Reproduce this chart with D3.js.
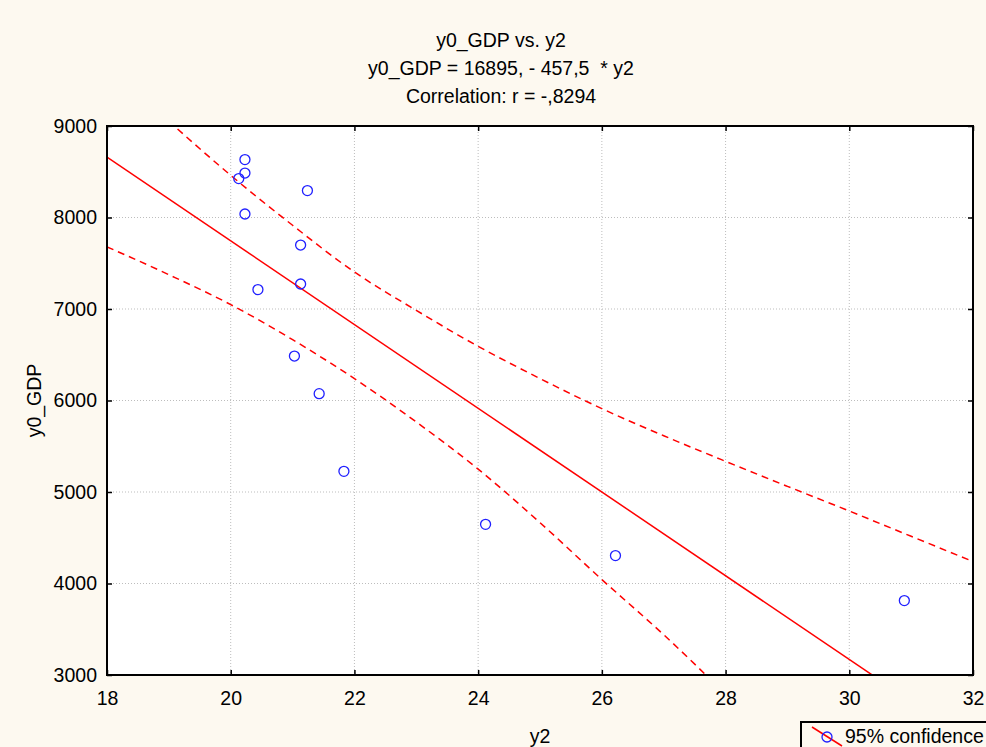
<!DOCTYPE html>
<html>
<head>
<meta charset="utf-8">
<script src="https://cdn.jsdelivr.net/npm/d3@7"></script>
<style>
  body { margin: 0; background: #fdf9f0; }
  text { font-family: "Liberation Sans", Arial, sans-serif; fill: #000; }
</style>
</head>
<body>
<div id="chart"></div>
<script>
// data
let y2Vals  = [20.23, 20.23, 20.13, 21.24, 20.23, 21.13, 21.13, 20.44, 21.03, 21.43, 21.83, 24.12, 26.22, 30.89];
let gdpVals = [8633, 8486, 8425, 8294, 8038, 7699, 7273, 7212, 6486, 6075, 5226, 4647, 4305, 3813];

// regression y0_GDP = 16895 - 457.5 * y2
let intercept = 16895, slope = -457.5;
let regX = [18, 32];

// 95% confidence band
let upperX = [18, 19, 20, 21, 22, 23, 24, 25, 26, 27, 28, 29, 30, 31, 32];
let upperY = [9680, 9053, 8461, 7915, 7404, 6985, 6592, 6240, 5911, 5615, 5335, 5062, 4792, 4516, 4240];
let lowerX = [18, 19, 20, 21, 22, 23, 24, 25, 26, 27, 28];
let lowerY = [7679, 7375, 7048, 6665, 6239, 5765, 5250, 4665, 4043, 3440, 2790];

let xTicks = [18, 20, 22, 24, 26, 28, 30, 32];
let yTicks = [3000, 4000, 5000, 6000, 7000, 8000, 9000];

let titleLines = ["y0_GDP vs. y2", "y0_GDP = 16895, - 457,5  * y2", "Correlation: r = -,8294"];

let W = 986, H = 747;
let pLeft = 107, pRight = 973, pTop = 126, pBottom = 675;

let svg = d3.select("#chart").append("svg")
            .attr("width", W)
            .attr("height", H);

svg.append("rect").attr("width", W).attr("height", H).attr("fill", "#fdf9f0");

let x = d3.scaleLinear().domain([18, 32]).range([pLeft, pRight]);
let y = d3.scaleLinear().domain([3000, 9000]).range([pBottom, pTop]);

// plot area
svg.append("rect")
   .attr("x", pLeft).attr("y", pTop)
   .attr("width", pRight - pLeft).attr("height", pBottom - pTop)
   .attr("fill", "#fff");

svg.append("clipPath").attr("id", "clip")
   .append("rect")
   .attr("x", pLeft).attr("y", pTop)
   .attr("width", pRight - pLeft).attr("height", pBottom - pTop);

// grid
let grid = svg.append("g");
grid.selectAll(".gx").data(xTicks.slice(1, -1)).enter().append("line")
    .attr("x1", d => x(d)).attr("x2", d => x(d))
    .attr("y1", pTop).attr("y2", pBottom)
    .attr("stroke", "#bdbdbd").attr("stroke-dasharray", "1,2");
grid.selectAll(".gy").data(yTicks.slice(1, -1)).enter().append("line")
    .attr("x1", pLeft).attr("x2", pRight)
    .attr("y1", d => y(d)).attr("y2", d => y(d))
    .attr("stroke", "#bdbdbd").attr("stroke-dasharray", "1,2");

let plot = svg.append("g").attr("clip-path", "url(#clip)");

let line = d3.line().x(d => x(d[0])).y(d => y(d[1]));
let curve = d3.line().x(d => x(d[0])).y(d => y(d[1])).curve(d3.curveMonotoneX);

plot.append("path")
    .datum(regX.map(v => [v, intercept + slope * v]))
    .attr("d", line)
    .attr("fill", "none").attr("stroke", "#ff0000").attr("stroke-width", 1.5);

plot.append("path")
    .datum(upperX.map((v, i) => [v, upperY[i]]))
    .attr("d", curve)
    .attr("fill", "none").attr("stroke", "#ff0000").attr("stroke-width", 1.5)
    .attr("stroke-dasharray", "7,5");

plot.append("path")
    .datum(lowerX.map((v, i) => [v, lowerY[i]]))
    .attr("d", curve)
    .attr("fill", "none").attr("stroke", "#ff0000").attr("stroke-width", 1.5)
    .attr("stroke-dasharray", "7,5");

plot.selectAll("circle").data(y2Vals).enter().append("circle")
    .attr("cx", d => x(d))
    .attr("cy", (d, i) => y(gdpVals[i]))
    .attr("r", 5)
    .attr("fill", "none")
    .attr("stroke", "#2020ff")
    .attr("stroke-width", 1.3);

// axes, ticks inside
let fs = "19.5px";
let ax = svg.append("g").attr("transform", "translate(0," + pBottom + ")")
            .call(d3.axisBottom(x).tickValues(xTicks).tickSize(-5).tickPadding(16).tickFormat(d3.format("d")));
let ay = svg.append("g").attr("transform", "translate(" + pLeft + ",0)")
            .call(d3.axisLeft(y).tickValues(yTicks).tickSize(-5).tickPadding(10).tickFormat(d3.format("d")));
let at = svg.append("g").attr("transform", "translate(0," + pTop + ")")
            .call(d3.axisTop(x).tickValues(xTicks).tickSize(-5).tickFormat(""));
let ar = svg.append("g").attr("transform", "translate(" + pRight + ",0)")
            .call(d3.axisRight(y).tickValues(yTicks).tickSize(-5).tickFormat(""));

[ax, ay, at, ar].forEach(a => {
  a.select(".domain").remove();
  a.selectAll("line").attr("stroke", "#000").attr("stroke-width", 1.5);
  a.selectAll("text").style("font-size", fs).attr("fill", "#000");
});

svg.append("rect")
   .attr("x", pLeft).attr("y", pTop)
   .attr("width", pRight - pLeft).attr("height", pBottom - pTop)
   .attr("fill", "none").attr("stroke", "#000").attr("stroke-width", 2);

// titles
svg.selectAll(".title").data(titleLines).enter().append("text")
   .attr("x", 501)
   .attr("y", (d, i) => 47 + i * 28)
   .attr("text-anchor", "middle")
   .attr("xml:space", "preserve")
   .style("white-space", "pre")
   .style("font-size", fs)
   .text(d => d);

svg.append("text")
   .attr("x", (pLeft + pRight) / 2).attr("y", 743)
   .attr("text-anchor", "middle")
   .style("font-size", fs)
   .text("y2");

svg.append("text")
   .attr("transform", "translate(41," + (pTop + pBottom) / 2 + ") rotate(-90)")
   .attr("text-anchor", "middle")
   .style("font-size", fs)
   .text("y0_GDP");

// legend
let lg = svg.append("g");
lg.append("rect")
  .attr("x", 801).attr("y", 722)
  .attr("width", 220).attr("height", 40)
  .attr("fill", "none").attr("stroke", "#000").attr("stroke-width", 2);
lg.append("line")
  .attr("x1", 812).attr("y1", 727).attr("x2", 842).attr("y2", 746)
  .attr("stroke", "#ff0000").attr("stroke-width", 1.5);
lg.append("circle")
  .attr("cx", 827).attr("cy", 737).attr("r", 5)
  .attr("fill", "none").attr("stroke", "#2020ff").attr("stroke-width", 1.3);
lg.append("text")
  .attr("x", 845).attr("y", 743)
  .style("font-size", fs)
  .text("95% confidence");
</script>
</body>
</html>
